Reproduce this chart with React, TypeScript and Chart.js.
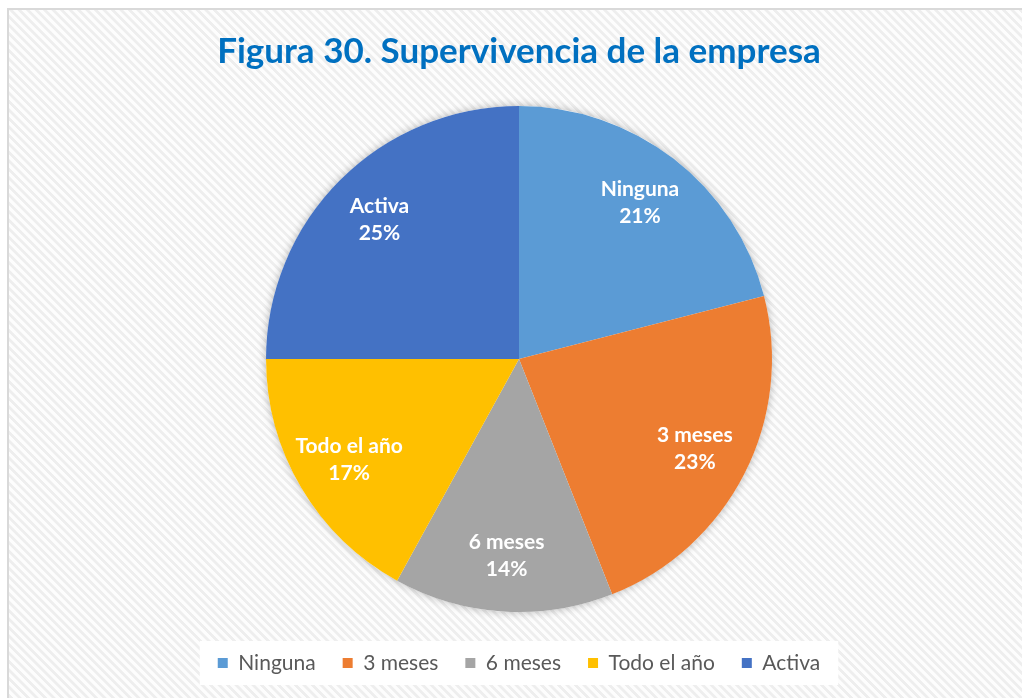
import React, { useEffect, useRef } from "react";
import { Chart, registerables } from "chart.js";

Chart.register(...registerables);

const titleText = "Figura 30. Supervivencia de la empresa";
const categories = ["Ninguna", "3 meses", "6 meses", "Todo el año", "Activa"];
const values = [21, 23, 14, 17, 25];
const colors = ["#5B9BD5", "#ED7D31", "#A5A5A5", "#FFC000", "#4472C4"];

const FONT = "Lato, 'Open Sans', sans-serif";

const shadowPlugin = {
  id: "pieShadow",
  beforeDatasetsDraw(chart: any) {
    const meta = chart.getDatasetMeta(0);
    const arc = meta.data[0];
    if (!arc) return;
    const { x, y, outerRadius } = arc.getProps(["x", "y", "outerRadius"], true);
    const ctx = chart.ctx;
    ctx.save();
    ctx.shadowColor = "rgba(0,0,0,0.28)";
    ctx.shadowBlur = 9;
    ctx.fillStyle = "#ffffff";
    ctx.beginPath();
    ctx.arc(x, y, outerRadius, 0, Math.PI * 2);
    ctx.fill();
    ctx.restore();
  },
};

const legendBoxPlugin = {
  id: "legendBox",
  beforeDraw(chart: any) {
    const lg = chart.legend;
    if (!lg || !lg.legendHitBoxes || !lg.legendHitBoxes.length) return;
    const hb = lg.legendHitBoxes;
    let l = Infinity, r = -Infinity, t = Infinity, b = -Infinity;
    hb.forEach((h: any) => {
      l = Math.min(l, h.left);
      r = Math.max(r, h.left + h.width);
      t = Math.min(t, h.top);
      b = Math.max(b, h.top + h.height);
    });
    const cy = (t + b) / 2;
    const ctx = chart.ctx;
    ctx.save();
    ctx.fillStyle = "#ffffff";
    ctx.fillRect(l - 18, cy - 22, r - l + 36, 44);
    ctx.restore();
  },
};

const labelPlugin = {
  id: "sliceLabels",
  afterDatasetsDraw(chart: any) {
    const ctx = chart.ctx;
    const meta = chart.getDatasetMeta(0);
    const total = values.reduce((a, v) => a + v, 0);
    ctx.save();
    ctx.fillStyle = "#ffffff";
    ctx.font = `bold 21px ${FONT}`;
    ctx.textAlign = "center";
    ctx.textBaseline = "middle";
    meta.data.forEach((arc: any, i: number) => {
      const { x, y, startAngle, endAngle, outerRadius } = arc.getProps(
        ["x", "y", "startAngle", "endAngle", "outerRadius"],
        true
      );
      const mid = (startAngle + endAngle) / 2;
      const r = outerRadius * 0.78;
      const cx = x + Math.cos(mid) * r;
      const cy = y + Math.sin(mid) * r;
      ctx.fillText(categories[i], cx, cy - 13.5);
      ctx.fillText(Math.round((values[i] / total) * 100) + "%", cx, cy + 13.5);
    });
    ctx.restore();
  },
};

export default function App() {
  const ref = useRef<HTMLCanvasElement | null>(null);

  useEffect(() => {
    if (!ref.current) return;
    const chart = new Chart(ref.current, {
      type: "pie",
      data: {
        labels: categories,
        datasets: [
          {
            data: values,
            backgroundColor: colors,
            borderWidth: 0,
            radius: 253,
          } as any,
        ],
      },
      options: {
        responsive: false,
        animation: false,
        layout: { padding: { top: 0, bottom: 14.5, left: 0, right: 0 } },
        plugins: {
          title: {
            display: true,
            text: titleText,
            color: "#0070C0",
            font: { family: FONT, size: 35, weight: "bold" },
            padding: { top: 21, bottom: 19.5 },
          },
          legend: {
            position: "bottom",
            labels: {
              boxWidth: 10,
              boxHeight: 10,
              padding: 27,
              color: "#595959",
              font: { family: FONT, size: 21 },
            },
          },
          tooltip: { enabled: false },
        },
      } as any,
      plugins: [shadowPlugin, legendBoxPlugin, labelPlugin],
    });
    return () => chart.destroy();
  }, []);

  return (
    <div
      style={{
        position: "fixed",
        left: 7,
        top: 8,
        width: 1030,
        height: 700,
        border: "2px solid #d9d9d9",
        background:
          "repeating-linear-gradient(45deg, #fdfdfd 0px, #fdfdfd 2.5px, #eeeeee 3.2px, #eeeeee 5.3px, #fdfdfd 6px)",
      }}
    >
      <canvas
        ref={ref}
        width={1020}
        height={688}
        style={{ display: "block", width: 1020, height: 688 }}
      />
    </div>
  );
}
